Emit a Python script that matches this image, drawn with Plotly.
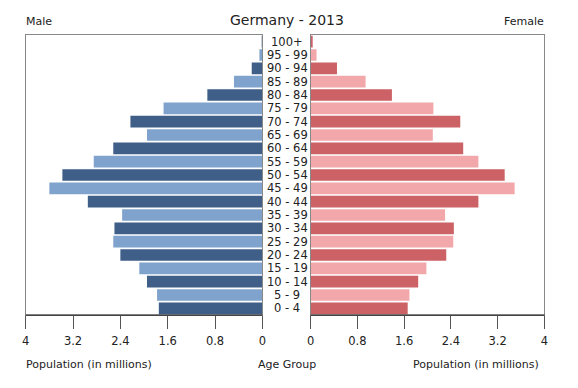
import plotly.graph_objects as go

ages = ["0 - 4", "5 - 9", "10 - 14", "15 - 19", "20 - 24", "25 - 29", "30 - 34",
        "35 - 39", "40 - 44", "45 - 49", "50 - 54", "55 - 59", "60 - 64", "65 - 69",
        "70 - 74", "75 - 79", "80 - 84", "85 - 89", "90 - 94", "95 - 99", "100+"]
male = [1.75, 1.78, 1.95, 2.08, 2.40, 2.52, 2.50, 2.37, 2.95, 3.60, 3.38, 2.85,
        2.52, 1.95, 2.23, 1.67, 0.93, 0.48, 0.18, 0.05, 0.01]
female = [1.66, 1.69, 1.84, 1.98, 2.32, 2.44, 2.45, 2.30, 2.87, 3.49, 3.32, 2.87,
          2.61, 2.09, 2.56, 2.10, 1.39, 0.94, 0.45, 0.10, 0.02]
ticks = [0, 0.8, 1.6, 2.4, 3.2, 4]
tick_text = ["0", "0.8", "1.6", "2.4", "3.2", "4"]

male_colors = ["#3f5f88" if i % 2 == 0 else "#7fa3cd" for i in range(len(ages))]
female_colors = ["#cc6266" if i % 2 == 0 else "#f2a8aa" for i in range(len(ages))]

W = 578.0
fig = go.Figure()
fig.add_trace(go.Bar(y=ages, x=male, orientation="h", marker=dict(color=male_colors, line_width=0),
                     xaxis="x", yaxis="y", hoverinfo="x+y"))
fig.add_trace(go.Bar(y=ages, x=female, orientation="h", marker=dict(color=female_colors, line_width=0),
                     xaxis="x2", yaxis="y2", hoverinfo="x+y"))

for a in ages:
    fig.add_annotation(x=287 / W, xref="paper", y=a, yref="y", text=a, showarrow=False,
                       font=dict(size=11.5, color="#222", family="DejaVu Sans"), xanchor="center")

common_x = dict(tickvals=ticks, ticktext=tick_text, ticks="outside", ticklen=13, tickcolor="#555",
                showgrid=False, zeroline=False, showline=True, linecolor="#888", mirror=True,
                ticklabelstandoff=2,
                tickfont=dict(size=11.5, color="#222", family="DejaVu Sans"), fixedrange=True)
fig.update_layout(
    width=578, height=388, margin=dict(l=0, r=0, t=35, b=73),
    paper_bgcolor="white", plot_bgcolor="white", showlegend=False, bargap=0.12,
    font=dict(family="DejaVu Sans", color="#222"),
    xaxis=dict(domain=[22 / W, 262 / W], range=[4, 0], anchor="y", **common_x),
    xaxis2=dict(domain=[311 / W, 548 / W], range=[0, 4], anchor="y2", **common_x),
    yaxis=dict(anchor="x", showticklabels=False, showgrid=False, zeroline=False, showline=True,
               linecolor="#888", mirror=True, ticks="", range=[-0.5, 20.5], categoryorder="array",
               categoryarray=ages, fixedrange=True),
    yaxis2=dict(anchor="x2", matches="y", showticklabels=False, showgrid=False, zeroline=False,
                showline=True, linecolor="#888", mirror=True, ticks="", categoryorder="array",
                categoryarray=ages, fixedrange=True),
)
# black bottom axis lines
fig.add_shape(type="line", xref="paper", yref="paper", x0=22 / W, x1=262 / W, y0=0, y1=0,
              line=dict(color="#000", width=1))
fig.add_shape(type="line", xref="paper", yref="paper", x0=311 / W, x1=548 / W, y0=0, y1=0,
              line=dict(color="#000", width=1))

fig.add_annotation(x=287 / W, y=20, xref="paper", yref="paper", text="Germany - 2013",
                   showarrow=False, font=dict(size=14, color="#222"))
fig.add_annotation(x=20 / W, xanchor="left", y=22, xref="paper", yref="paper", text="Male",
                   showarrow=False, font=dict(size=11, color="#222"))
fig.add_annotation(x=550 / W, xanchor="right", y=22, xref="paper", yref="paper", text="Female",
                   showarrow=False, font=dict(size=11, color="#222"))
fig.add_annotation(x=20 / W, xanchor="left", y=364, xref="paper", yref="paper", text="Population (in millions)",
                   showarrow=False, font=dict(size=11, color="#222"))
fig.add_annotation(x=287 / W, xanchor="center", y=364, xref="paper", yref="paper", text="Age Group",
                   showarrow=False, font=dict(size=11, color="#222"))
fig.add_annotation(x=545 / W, xanchor="right", y=364, xref="paper", yref="paper", text="Population (in millions)",
                   showarrow=False, font=dict(size=11, color="#222"))

# convert pixel y positions of text annotations to paper coordinates
plot_top, plot_bot = 35, 315
for ann in fig.layout.annotations:
    if ann.yref == "paper":
        py = ann.y
        ann.y = (plot_bot - py) / (plot_bot - plot_top)
        ann.yanchor = "middle"

fig.write_html("out.html", config={"displayModeBar": False},
               post_script="document.body.style.margin='0';document.body.style.overflow='hidden';")
